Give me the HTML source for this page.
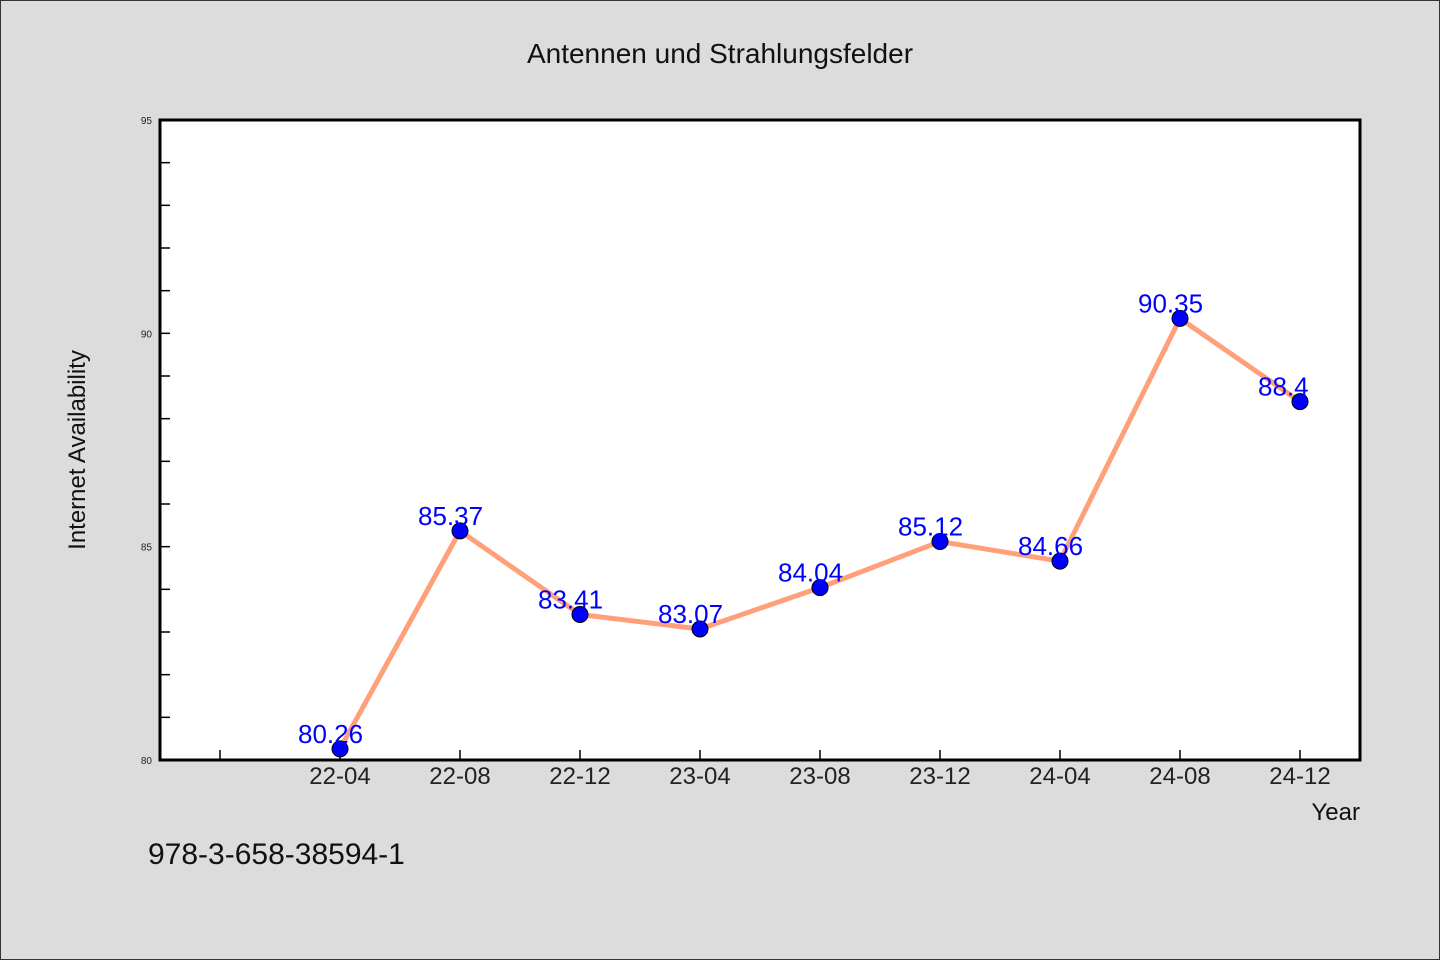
<!DOCTYPE html>
<html><head><meta charset="utf-8"><style>
html,body{margin:0;padding:0;}
body{width:1440px;height:960px;background:#dcdcdc;overflow:hidden;font-family:"WenQuanYi Zen Hei","Liberation Sans",sans-serif;}
svg{display:block;}
</style></head><body>
<svg width="1440" height="960" viewBox="0 0 1440 960">
<rect x="0.5" y="0.5" width="1439" height="959" fill="#dcdcdc" stroke="#333"/>
<text x="720" y="63" text-anchor="middle" font-size="28" fill="#111">Antennen und Strahlungsfelder</text>
<rect x="160" y="120" width="1200" height="640" fill="#fff"/>
<g id="axes"></g>
<g id="series"></g>
<rect x="160" y="120" width="1200" height="640" fill="none" stroke="#000" stroke-width="3"/>
<text transform="translate(85,450) rotate(-90)" text-anchor="middle" font-size="24" fill="#111">Internet Availability</text>
<text x="1360" y="820" text-anchor="end" font-size="24" fill="#111">Year</text>
<text x="148" y="864" font-size="30" fill="#111">978-3-658-38594-1</text>
</svg>
<script>
const categories=["22-04","22-08","22-12","23-04","23-08","23-12","24-04","24-08","24-12"];
const values=[80.26,85.37,83.41,83.07,84.04,85.12,84.66,90.35,88.4];
const valueLabels=["80.26","85.37","83.41","83.07","84.04","85.12","84.66","90.35","88.4"];
const yTicks=[80,85,90,95];
const yMin=80,yMax=95;
const NS="http://www.w3.org/2000/svg";
function x(i){return 340+i*120;}
function y(v){return 760-(v-yMin)/(yMax-yMin)*640;}
function mk(t,a,p){const e=document.createElementNS(NS,t);for(const k in a)e.setAttribute(k,a[k]);p.appendChild(e);return e;}
const ax=document.getElementById('axes'),se=document.getElementById('series');
for(let v=yMin+1;v<yMax;v++){
 const l=mk('line',{x1:160,x2:170,y1:y(v),y2:y(v),stroke:'#000','stroke-width':1.5},ax);
 
 
}
yTicks.forEach(v=>{
 const t=mk('text',{x:152,y:y(v)+4,'text-anchor':'end','font-size':10,fill:'#222'},ax);
 t.textContent=v;
 
 
});
for(let i=-1;i<categories.length;i++){
 const l=mk('line',{x1:x(i),x2:x(i),y1:750,y2:760,stroke:'#000','stroke-width':1.5},ax);
 
 
}
categories.forEach((c,i)=>{
 const t=mk('text',{x:x(i),y:784,'text-anchor':'middle','font-size':24,fill:'#222'},ax);
 t.textContent=c;
 
 
});
const pl=mk('polyline',{points:values.map((v,i)=>x(i)+','+y(v)).join(' '),fill:'none',stroke:'#ffa07a','stroke-width':5,'stroke-linejoin':'round'},se);


values.forEach((v,i)=>{
 const c=mk('circle',{cx:x(i),cy:y(v),r:8,fill:'#0000ff',stroke:'#000','stroke-width':1},se);
 
 
 const t=mk('text',{x:x(i),y:y(v)-6,'text-anchor':'start','font-size':26,fill:'#0000ff'},se);
 t.setAttribute('x',x(i)-42);
 t.textContent=valueLabels[i];
 
 
});
</script>
</body></html>
